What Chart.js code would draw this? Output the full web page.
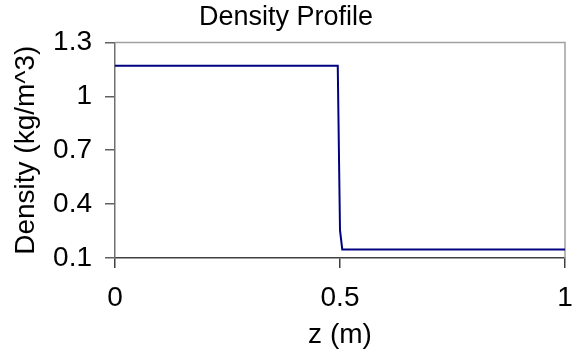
<!DOCTYPE html>
<html>
<head>
<meta charset="utf-8">
<script src="https://cdn.jsdelivr.net/npm/chart.js@4/dist/chart.umd.min.js"></script>
<style>
  body { margin: 0; background: #fff; }
</style>
</head>
<body>
<canvas id="densityChart" width="572" height="352"></canvas>
<script>
// Datos del perfil de densidad
const zValues = [0, 0.495, 0.5, 0.505, 1];
const densityValues = [1.17, 1.17, 0.255, 0.148, 0.148];
const xTicks = [0, 0.5, 1];
const yTicks = [0.1, 0.4, 0.7, 1, 1.3];

const font = { family: '"Liberation Sans", Arial, sans-serif', size: 28 };

// Marco gris arriba y a la derecha del área del gráfico
const frame = {
    id: 'frame',
    beforeDatasetsDraw(chart) {
        const a = chart.chartArea;
        const c = chart.ctx;
        c.save();
        c.strokeStyle = '#a0a0a0';
        c.lineWidth = 1.5;
        c.beginPath();
        c.moveTo(a.left, a.top);
        c.lineTo(a.right, a.top);
        c.lineTo(a.right, a.bottom);
        c.stroke();
        c.restore();
    }
};

const ctx = document.getElementById('densityChart').getContext('2d');
const densityChart = new Chart(ctx, {
    type: 'line',
    data: {
        datasets: [{
            label: 'Density',
            data: zValues.map((z, i) => ({ x: z, y: densityValues[i] })),
            borderColor: '#000080',
            borderWidth: 2,
            pointRadius: 0,
            tension: 0,
            fill: false
        }]
    },
    options: {
        responsive: false,
        animation: false,
        layout: { padding: { left: 0, right: 0, top: 0, bottom: 0 } },
        plugins: {
            legend: { display: false },
            tooltip: { enabled: false },
            title: {
                display: true,
                text: 'Density Profile',
                color: '#000',
                font: { family: font.family, size: 27, weight: 'normal' },
                padding: { top: 1, bottom: 9 }
            }
        },
        scales: {
            x: {
                type: 'linear',
                min: 0,
                max: 1,
                afterBuildTicks: s => { s.ticks = xTicks.map(v => ({ value: v })); },
                afterFit: s => { s.height = 94; s.paddingLeft = 0; s.paddingRight = 7; },
                ticks: { color: '#000', font: font, padding: 13, maxRotation: 0, callback: v => String(v) },
                grid: { drawOnChartArea: false, tickLength: 10, color: '#404040', lineWidth: 1.5 },
                border: { color: '#404040', width: 1.5 },
                title: { display: true, text: 'z (m)', color: '#000', font: font, padding: { top: 0, bottom: 0 } }
            },
            y: {
                min: 0.1,
                max: 1.3,
                afterBuildTicks: s => { s.ticks = yTicks.map(v => ({ value: v })); },
                afterFit: s => { s.width = 115; },
                ticks: { color: '#000', font: font, padding: 13, callback: v => String(v) },
                grid: { drawOnChartArea: false, tickLength: 10, color: '#606060', lineWidth: 1.5 },
                border: { color: '#707070', width: 1.5 },
                title: { display: true, text: 'Density (kg/m^3)', color: '#000', font: font, padding: { top: 9, bottom: 0 } }
            }
        }
    },
    plugins: [frame]
});
</script>
</body>
</html>
